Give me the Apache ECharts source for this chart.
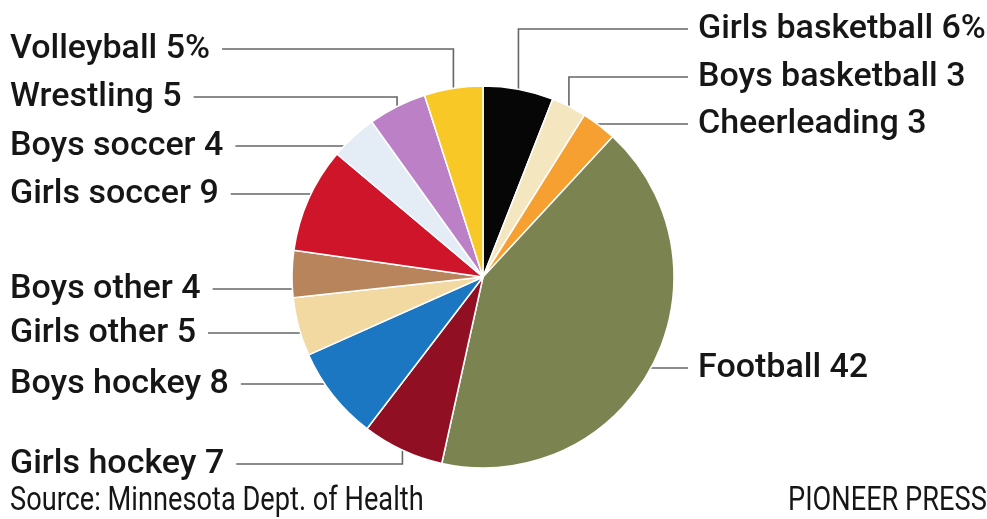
<!DOCTYPE html>
<html>
<head>
<meta charset="utf-8">
<title>Concussions by sport</title>
<script src="https://cdn.jsdelivr.net/npm/echarts@6/dist/echarts.min.js"></script>
<style>
  html, body { margin: 0; padding: 0; background: #fff; }
  #chart { width: 987px; height: 519px; }
</style>
</head>
<body>
<div id="chart"></div>
<script>
// data, clockwise from 12 o'clock
var sports = ['Girls basketball', 'Boys basketball', 'Cheerleading', 'Football',
  'Girls hockey', 'Boys hockey', 'Girls other', 'Boys other',
  'Girls soccer', 'Boys soccer', 'Wrestling', 'Volleyball'];
var shares = [6, 3, 3, 42, 7, 8, 5, 4, 9, 4, 5, 5];
var suffix = ['%', '', '', '', '', '', '', '', '', '', '', '%'];

// colours per slice
var colors = ['#060606', '#f4e7bf', '#f6a031', '#7b8450',
  '#910f23', '#1b77c1', '#f1d9a1', '#b7845c',
  '#cf1529', '#e4ecf6', '#bb80c6', '#f8c827'];

// label layout: text row (y) and leader style ('v' = drop down to slice, 'h' = straight to rim)
var labelRow = [29, 77, 124, 368, 464, 384, 333, 289, 194, 146, 97, 49];
var leader = ['v', 'v', 'h', 'h', 'v', 'h', 'h', 'h', 'h', 'h', 'v', 'v'];

var cx = 483, cy = 277, r = 191;
var total = shares.reduce(function (a, b) { return a + b; }, 0);

function midAngle(i) {
  var cum = 0;
  for (var k = 0; k < i; k++) cum += shares[k];
  return (cum + shares[i] / 2) / total * Math.PI * 2;
}

var chart = echarts.init(document.getElementById('chart'));

chart.setOption({
  animation: false,
  series: [{
    type: 'pie',
    center: [cx, cy],
    radius: r,
    startAngle: 90,
    clockwise: true,
    data: sports.map(function (s, i) {
      return { name: s, value: shares[i], itemStyle: { color: colors[i] } };
    }),
    itemStyle: { borderColor: '#fff', borderWidth: 1.5 },
    label: {
      show: true,
      formatter: function (p) { return p.name + ' ' + p.value + suffix[p.dataIndex]; },
      fontFamily: 'Roboto, sans-serif',
      fontWeight: 500,
      fontSize: 34,
      color: '#161616'
    },
    labelLine: {
      show: true,
      lineStyle: { color: '#666', width: 1.6 }
    },
    labelLayout: function (p) {
      var i = p.dataIndex;
      var a = midAngle(i);
      var ex = cx + r * Math.sin(a), ey = cy - r * Math.cos(a);
      var right = ex > cx;
      var y = labelRow[i];
      var lx = right ? 698 : 10;
      var endX = right ? lx - 10 : lx + p.labelRect.width + 12;
      var start;
      if (leader[i] === 'v') {
        start = [[ex, ey], [ex, y]];
      } else {
        var dx = Math.sqrt(Math.max(r * r - (y - cy) * (y - cy), 0));
        var rx = right ? cx + dx : cx - dx;
        start = [[rx, y], [rx, y]];
      }
      return {
        x: lx,
        y: y,
        align: 'left',
        verticalAlign: 'middle',
        labelLinePoints: [start[0], start[1], [endX, y]]
      };
    }
  }],
  graphic: [
    {
      type: 'text', x: 10, y: 484, scaleX: 0.8,
      style: { text: 'Source: Minnesota Dept. of Health', fontFamily: 'Roboto, sans-serif',
        fontSize: 34, fill: '#161616' }
    },
    {
      type: 'text', x: 788, y: 484, scaleX: 0.8,
      style: { text: 'PIONEER PRESS', fontFamily: 'Roboto, sans-serif',
        fontSize: 34, fill: '#161616' }
    }
  ]
});
</script>
</body>
</html>
